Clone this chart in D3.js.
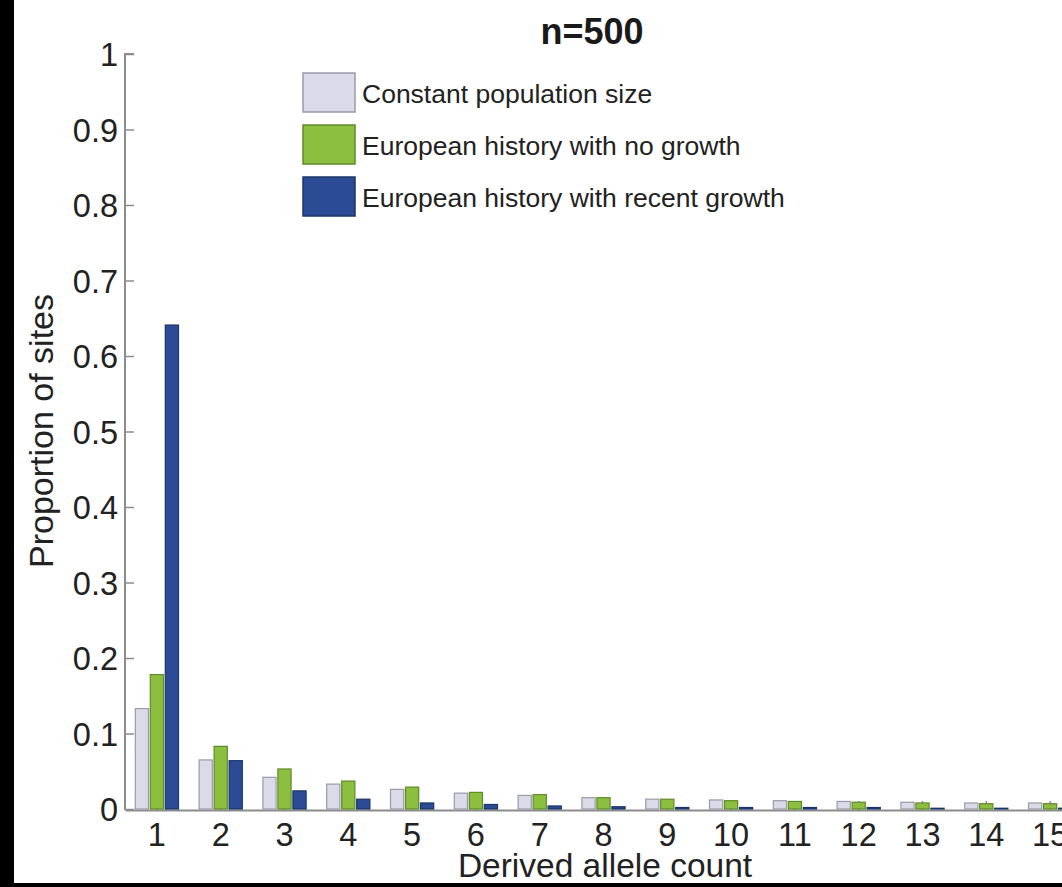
<!DOCTYPE html>
<html>
<head>
<meta charset="utf-8">
<script src="https://cdn.jsdelivr.net/npm/d3@7"></script>
<style>
  body { margin: 0; background: #fff; }
  svg { display: block; font-family: 'Liberation Sans', Arial, sans-serif; }
</style>
</head>
<body>
<div id="drawing"></div>
<script>
'use strict';

const counts = d3.range(1, 16);
const series = ['Constant population size',
                'European history with no growth',
                'European history with recent growth'];
const constant = [0.133, 0.065, 0.042, 0.033, 0.026, 0.021, 0.018, 0.015, 0.013, 0.012, 0.011, 0.010, 0.009, 0.008, 0.008];
const noGrowth = [0.178, 0.083, 0.053, 0.037, 0.029, 0.022, 0.019, 0.015, 0.013, 0.011, 0.010, 0.009, 0.008, 0.007, 0.007];
const recent   = [0.641, 0.064, 0.024, 0.013, 0.008, 0.006, 0.004, 0.003, 0.002, 0.002, 0.002, 0.002, 0.001, 0.001, 0.001];
const yTicks = [0, 0.1, 0.2, 0.3, 0.4, 0.5, 0.6, 0.7, 0.8, 0.9, 1];

const fills   = ['#dadae9', '#8cbf3f', '#2b4c94'];
const strokes = ['#9a9aa8', '#5f8a2a', '#1c3468'];

const W = 1062, H = 887;
const left = 125, step = 63.8, y0 = 809, y1 = 54;

const svg = d3.select('#drawing')
  .append('svg')
  .attr('width', W)
  .attr('height', H);

svg.append('rect').attr('width', W).attr('height', H).style('fill', '#fff');

const x = d3.scaleBand()
  .domain(counts)
  .range([left, left + step * counts.length])
  .padding(0);
const xSub = d3.scaleBand()
  .domain(d3.range(3))
  .range([0, x.bandwidth()])
  .paddingInner(0.12)
  .paddingOuter(0.687);
const y = d3.scaleLinear().domain([0, 1]).range([y0, y1]);

// axes (drawn under the bars, like matlab)
const yAxis = svg.append('g')
  .attr('transform', `translate(${left},0)`)
  .call(d3.axisRight(y).tickValues(yTicks).tickSize(9).tickFormat(d3.format('~g')));
yAxis.select('.domain').attr('d', `M9,${y1}H0V${y0 + 1}`);
yAxis.selectAll('line').style('stroke', '#8c8c8c').style('stroke-width', 1.5);
yAxis.select('.domain').style('stroke', '#8c8c8c').style('stroke-width', 2).style('fill', 'none');
yAxis.selectAll('text')
  .attr('x', -7)
  .attr('dy', '0.36em')
  .style('text-anchor', 'end')
  .style('font-size', '32.5px')
  .style('fill', '#222');

const xAxis = svg.append('g')
  .attr('transform', `translate(0,${y0 + 1})`)
  .call(d3.axisTop(x).tickSize(9).tickSizeOuter(0));
xAxis.select('.domain').style('stroke', '#8c8c8c').style('stroke-width', 2);
xAxis.selectAll('line').style('stroke', '#8c8c8c').style('stroke-width', 1.5);
xAxis.selectAll('text')
  .attr('y', 36)
  .style('font-size', '32.5px')
  .style('fill', '#222');

// bars
const rows = counts.map((c, i) => ({count: c, vals: [constant[i], noGrowth[i], recent[i]]}));
const groups = svg.append('g').attr('id', 'bars')
  .selectAll('g')
  .data(rows)
  .enter()
  .append('g')
  .attr('transform', d => `translate(${x(d.count)},0)`);
groups.selectAll('rect')
  .data(d => d.vals.map((v, k) => ({v: v, k: k})))
  .enter()
  .append('rect')
  .attr('x', d => xSub(d.k))
  .attr('y', d => y(d.v))
  .attr('width', xSub.bandwidth())
  .attr('height', d => y0 - y(d.v))
  .style('fill', d => fills[d.k])
  .style('stroke', d => strokes[d.k])
  .style('stroke-width', 1.2);

// legend
const legend = svg.append('g').attr('transform', 'translate(303,73)');
series.forEach(function(s, k) {
  const row = legend.append('g').attr('transform', `translate(0,${k * 52})`);
  row.append('rect')
    .attr('width', 52).attr('height', 39)
    .style('fill', fills[k])
    .style('stroke', strokes[k])
    .style('stroke-width', 1.5);
  row.append('text')
    .attr('x', 59).attr('y', 20)
    .attr('dy', '0.36em')
    .text(s)
    .style('font-size', '26.5px')
    .style('fill', '#222');
});

// title and labels
svg.append('text')
  .attr('x', 592).attr('y', 44)
  .style('text-anchor', 'middle')
  .style('font-size', '36px')
  .style('font-weight', 'bold')
  .style('fill', '#1a1a1a')
  .text('n=500');

svg.append('text')
  .attr('transform', 'translate(53,431) rotate(-90)')
  .style('text-anchor', 'middle')
  .style('font-size', '34px')
  .style('fill', '#222')
  .text('Proportion of sites');

svg.append('text')
  .attr('x', 605).attr('y', 877)
  .style('text-anchor', 'middle')
  .style('font-size', '33.5px')
  .style('fill', '#222')
  .text('Derived allele count');

// black frame bits from the screenshot
svg.append('rect').attr('x', 0).attr('y', 0).attr('width', 14).attr('height', H).style('fill', '#000');
svg.append('rect').attr('x', 0).attr('y', 883).attr('width', W).attr('height', 4).style('fill', '#000');
</script>
</body>
</html>
